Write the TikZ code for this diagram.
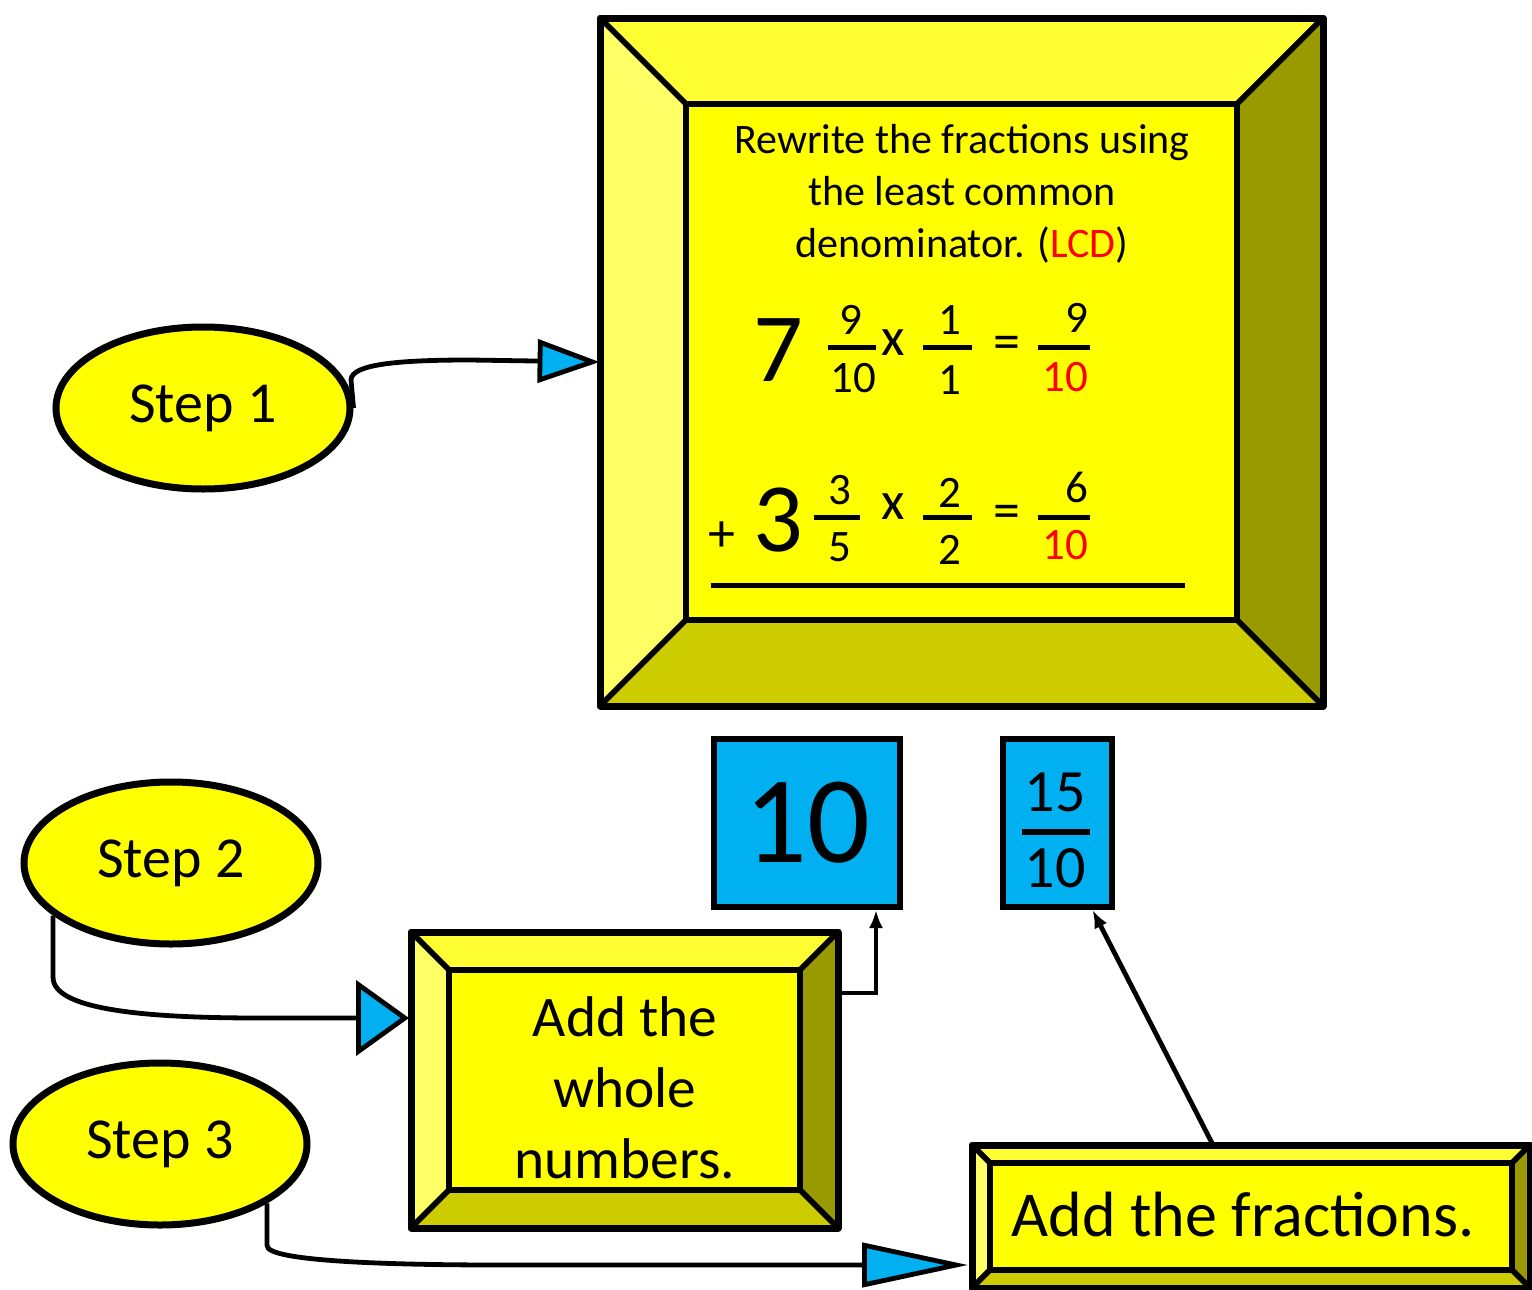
\documentclass[tikz,border=0pt]{standalone}
\usepackage{fontspec}
\setmainfont{Carlito}
\usetikzlibrary{arrows.meta,positioning,calc,fit,shapes.geometric}
\definecolor{face}{HTML}{FFFF00}
\definecolor{bevtop}{HTML}{FFFF33}
\definecolor{bevleft}{HTML}{FFFF66}
\definecolor{bevright}{HTML}{999900}
\definecolor{bevbot}{HTML}{CCCC00}
\definecolor{sky}{HTML}{00B0F0}
\definecolor{lcdred}{HTML}{FF0000}
\tikzset{
  stepnode/.style={
    ellipse,
    draw=black,
    fill=face,
    line width=3.5pt,
    minimum width=147pt,
    minimum height=81pt,
    inner sep=0pt,
    font=\fontsize{29}{32}\selectfont
  },
  bevel/.style={draw=black, line width=2.7pt, line join=round},
  stepline/.style={draw=black, line width=2.4pt},
  ptr/.style={-{Latex[length=9pt,width=7pt]}, draw=black, line width=2.4pt},
  numbox/.style={draw=black, fill=sky, line width=3pt, minimum height=84pt, inner sep=0pt},
  infotext/.style={align=center, inner sep=0pt, font=\fontsize{21}{26}\selectfont},
  boxtext/.style={align=center, inner sep=0pt, font=\fontsize{28.7}{35.5}\selectfont},
  fnum/.style={inner sep=0pt, font=\fontsize{22.5}{27}\selectfont},
  fsign/.style={inner sep=0pt, font=\fontsize{27}{30}\selectfont},
  bignum/.style={inner sep=0pt, font=\fontsize{49}{58}\selectfont},
  fbar/.style={draw=black, line width=2.5pt}
}
% beveled frame: name, top-left x y, bottom-right x y, inset
\newcommand{\bevelbox}[6]{%
  \coordinate (#1nw) at (#2,#3);
  \coordinate (#1se) at (#4,#5);
  \coordinate (#1inw) at ({#2+#6},{#3+#6});
  \coordinate (#1ise) at ({#4-#6},{#5-#6});
  \filldraw[bevel, fill=bevtop] (#1nw) -- (#1nw -| #1se) -- (#1inw -| #1ise) -- (#1inw) -- cycle;
  \filldraw[bevel, fill=bevleft] (#1nw) -- (#1inw) -- (#1inw |- #1ise) -- (#1nw |- #1se) -- cycle;
  \filldraw[bevel, fill=bevright] (#1nw -| #1se) -- (#1se) -- (#1ise) -- (#1inw -| #1ise) -- cycle;
  \filldraw[bevel, fill=bevbot] (#1nw |- #1se) -- (#1se) -- (#1ise) -- (#1inw |- #1ise) -- cycle;
  \filldraw[bevel, fill=face] (#1inw) rectangle (#1ise);
  \draw[bevel, line width=3.5pt] (#1nw) rectangle (#1se);
  \node[fit=(#1nw)(#1se), inner sep=0pt] (#1) {};
}

\begin{document}
\begin{tikzpicture}[x=0.5pt,y=-0.5pt]
  \useasboundingbox (0,0) rectangle (1532,1290);

  % frames
  \bevelbox{b1}{600}{18}{1323}{706}{86}
  \bevelbox{b2}{411}{932}{838}{1228}{38}
  \bevelbox{b3}{972}{1145}{1530}{1288}{18}

  % step 1 content
  \node[infotext] (rule) at (962,194) {Rewrite the fractions using\\the least common\\denominator. (\textcolor{lcdred}{LCD})};

  \node[bignum] (seven) at (778,350) {7};
  \node[fnum] (n1a) at (851,320) {9};
  \node[fnum] (d1a) at (853,378) {10};
  \draw[fbar] (828,347) -- (876,347);
  \node[fsign] (x1) at (893,343) {x};
  \node[fnum] (n1b) at (950,320) {1};
  \node[fnum] (d1b) at (950,380) {1};
  \draw[fbar] (923,347) -- (972,347);
  \node[fsign] (eq1) at (1007,348) {=};
  \node[fnum, anchor=east] (n1c) at (1089,318) {9};
  \node[fnum, text=lcdred] (d1c) at (1065,377) {10};
  \draw[fbar] (1038,347) -- (1090,347);

  \node[fsign] (plus) at (722,537) {+};
  \node[bignum] (three) at (778,520) {3};
  \node[fnum] (n2a) at (840,490) {3};
  \node[fnum] (d2a) at (840,547) {5};
  \draw[fbar] (814,517) -- (860,517);
  \node[fsign] (x2) at (893,507) {x};
  \node[fnum] (n2b) at (950,493) {2};
  \node[fnum] (d2b) at (950,550) {2};
  \draw[fbar] (923,517) -- (972,517);
  \node[fsign] (eq2) at (1007,517) {=};
  \node[fnum, anchor=east] (n2c) at (1089,487) {6};
  \node[fnum, text=lcdred] (d2c) at (1065,545) {10};
  \draw[fbar] (1038,517) -- (1090,517);
  \draw[fbar] (711,585) -- (1185,585);

  % results
  \node[numbox, minimum width=93pt, font=\fontsize{62}{68}\selectfont] (ten) at (807,823) {10};
  \node[numbox, minimum width=54.5pt] (frac) at (1057,823) {};
  \node[fnum, font=\fontsize{30}{34}\selectfont] (fn) at (1055,792) {15};
  \node[fnum, font=\fontsize{30}{34}\selectfont] (fd) at (1055,868) {10};
  \draw[fbar, line width=3pt] (1022,832) -- (1090,832);

  % box texts
  \node[boxtext] (t2) at (625,1088) {Add the\\whole\\numbers.};
  \node[boxtext, font=\fontsize{32}{38}\selectfont] (t3) at (1243,1215) {Add the fractions.};

  % steps
  \node[stepnode] (s1) at (203,408) {Step 1};
  \node[stepnode] (s2) at (171,863) {Step 2};
  \node[stepnode] (s3) at (160,1144) {Step 3};

  \coordinate (in2) at (409,1018);
  \coordinate (in3) at (968,1265);
  \coordinate (out2) at (838,993);
  \coordinate (out3) at (1213,1145);

  \draw[stepline, -{Triangle[length=31pt,width=21.5pt,fill=sky]}] (s1.east) -- (351,380) .. controls (351,364) and (400,360) .. (470,360) -- (b1.west);
  \draw[stepline, -{Triangle[length=26.5pt,width=37.5pt,fill=sky]}] (s2.204) -- ++(0,62) .. controls (53,1012) and (160,1018) .. (260,1018) -- (in2);
  \draw[stepline, -{Triangle[length=53pt,width=22pt,fill=sky]}] (s3.-29) -- ++(0,42) .. controls (265,1262) and (400,1265) .. (500,1265) -- (in3);

  \draw[ptr] (out2) -| ($(ten.south east)+(-27,0)$);
  \draw[ptr] (out3) -- ($(frac.south east)+(-22,0)$);
\end{tikzpicture}
\end{document}
